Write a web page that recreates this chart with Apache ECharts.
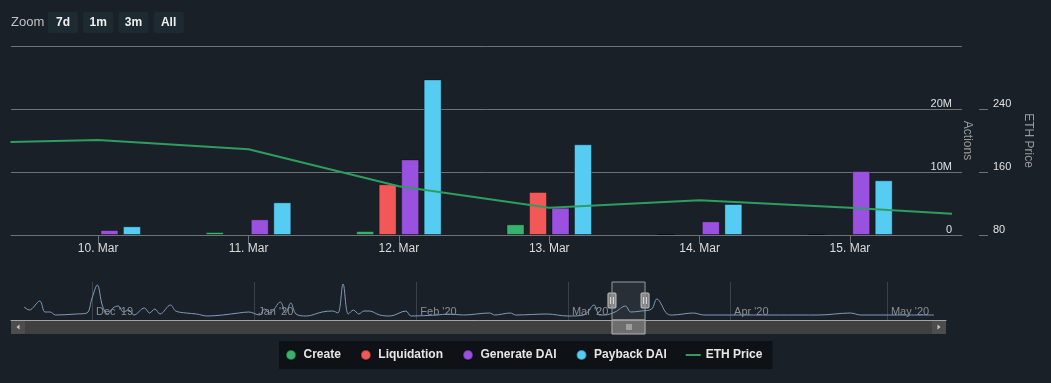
<!DOCTYPE html>
<html>
<head>
<meta charset="utf-8">
<script src="https://cdn.jsdelivr.net/npm/echarts/dist/echarts.min.js"></script>
<style>
html,body{margin:0;padding:0;background:#192028;}
#main{width:1051px;height:383px;}
</style>
</head>
<body>
<div id="main"></div>
<script>
// ---------- data ----------
const days = ['2020-03-10', '2020-03-11', '2020-03-12', '2020-03-13', '2020-03-14', '2020-03-15'];
const createVals = [null, 0.48e6, 0.63e6, 1.7e6, 0.15e6, 0.15e6];
const liquidationVals = [null, null, 8.05e6, 6.83e6, null, null];
const generateVals = [0.79e6, 2.49e6, 12.0e6, 4.33e6, 2.17e6, 10.16e6];
const paybackVals = [1.38e6, 5.19e6, 24.7e6, 14.4e6, 4.92e6, 8.68e6];

const ethTimes = ['2020-03-09 10:00', '2020-03-10 00:00', '2020-03-11 00:00', '2020-03-12 00:00',
  '2020-03-13 00:00', '2020-03-14 00:00', '2020-03-15 00:00', '2020-03-15 16:17'];
const ethPrices = [198, 200.5, 189, 142, 114.5, 124, 114.5, 107];

const viewStart = '2020-03-09 10:05';
const viewEnd = '2020-03-15 17:53';

const navDates = ['2019-11-18', '2019-11-19', '2019-11-21', '2019-11-22', '2019-11-23', '2019-11-24', '2019-11-28',
  '2019-11-30', '2019-12-01', '2019-12-02', '2019-12-03', '2019-12-04', '2019-12-05', '2019-12-06', '2019-12-07',
  '2019-12-08', '2019-12-09', '2019-12-11', '2019-12-12', '2019-12-13', '2019-12-14', '2019-12-16', '2019-12-17',
  '2019-12-19', '2019-12-21', '2019-12-23', '2019-12-26', '2019-12-29', '2019-12-31', '2020-01-02', '2020-01-03',
  '2020-01-04', '2020-01-06', '2020-01-07', '2020-01-08', '2020-01-09', '2020-01-11', '2020-01-14', '2020-01-16',
  '2020-01-17', '2020-01-18', '2020-01-19', '2020-01-20', '2020-01-21', '2020-01-22', '2020-01-23', '2020-01-25',
  '2020-01-27', '2020-01-30', '2020-01-31', '2020-02-05', '2020-02-07', '2020-02-10', '2020-02-15', '2020-02-16',
  '2020-02-19', '2020-02-20', '2020-02-26', '2020-03-01', '2020-03-04', '2020-03-06', '2020-03-07', '2020-03-08',
  '2020-03-10', '2020-03-12', '2020-03-13', '2020-03-15', '2020-03-17', '2020-03-18', '2020-03-20', '2020-03-21',
  '2020-03-25', '2020-03-27', '2020-04-01', '2020-04-07', '2020-04-14', '2020-04-18', '2020-04-24', '2020-04-26',
  '2020-05-03', '2020-05-10'];
const navValues = [13, 10, 19, 8, 8, 5, 6,
  7, 22, 35, 14, 6, 12, 14, 8,
  10, 5, 12, 7, 11, 6, 15, 9,
  7, 6, 4, 5, 7, 8, 5, 11,
  7, 18, 7, 17, 6, 4, 8, 9,
  7, 36, 6, 10, 6, 9, 9, 5,
  4, 9, 4, 5, 6, 5, 7, 5,
  7, 5, 6, 4, 5, 15, 5, 5,
  8, 14, 8, 9, 11, 21, 6, 5,
  7, 5, 5, 5, 5, 5, 7, 5,
  5, 5];
const navMin = '2019-11-15 12:00';
const navMax = '2020-05-12 07:00';

const seriesNames = ['Create', 'Liquidation', 'Generate DAI', 'Payback DAI', 'ETH Price'];
const colors = ['#37b26c', '#f25858', '#9b51e0', '#56ccf2', '#2e9e5f'];
const monthNames = ['Jan', 'Feb', 'Mar', 'Apr', 'May', 'Jun', 'Jul', 'Aug', 'Sep', 'Oct', 'Nov', 'Dec'];
const zoomButtons = ['7d', '1m', '3m', 'All'];

// ---------- chart ----------
const FONT = 'Liberation Sans, Arial, sans-serif';
const GRID_LEFT = 11, GRID_RIGHT = 89, CHART_W = 1051;
const chart = echarts.init(document.getElementById('main'));

function toTime(s) { return echarts.number.parseDate(s).getTime(); }
function pair(xs, ys) { return xs.map((x, i) => [x, ys[i]]); }

const barCommon = {
  type: 'bar', xAxisIndex: 0, yAxisIndex: 0, barWidth: 18, barGap: '25%',
  itemStyle: { borderColor: 'rgba(0,0,0,0.35)', borderWidth: 1 }
};

const staticGraphics = [];
staticGraphics.push({
  type: 'text', id: 'zoomLbl', left: 11, top: 16,
  style: { text: 'Zoom', fill: '#c2c2c2', font: '13px ' + FONT }
});
zoomButtons.forEach((b, i) => {
  const x = 48 + i * 35.2;
  staticGraphics.push({
    type: 'rect', id: 'zb' + i, shape: { x: x, y: 12, width: 30, height: 21, r: 2 },
    style: { fill: '#1d2a31' }
  });
  staticGraphics.push({
    type: 'text', id: 'zt' + i, x: x + 15, y: 22.5,
    style: { text: b, fill: '#f0f0f0', font: 'bold 12px ' + FONT, align: 'center', verticalAlign: 'middle' }
  });
});
staticGraphics.push({ type: 'rect', id: 'track', shape: { x: 11, y: 320, width: 935, height: 14 }, style: { fill: '#404040' } });
staticGraphics.push({ type: 'rect', id: 'lbtn', shape: { x: 11, y: 320, width: 14, height: 14 }, style: { fill: '#4d4d4d' } });
staticGraphics.push({ type: 'rect', id: 'rbtn', shape: { x: 932, y: 320, width: 14, height: 14 }, style: { fill: '#4d4d4d' } });
staticGraphics.push({ type: 'polygon', id: 'larr', shape: { points: [[19.5, 324.5], [19.5, 329.5], [16.5, 327]] }, style: { fill: '#c8c8c8' } });
staticGraphics.push({ type: 'polygon', id: 'rarr', shape: { points: [[937.5, 324.5], [937.5, 329.5], [940.5, 327]] }, style: { fill: '#c8c8c8' } });

const option = {
  backgroundColor: '#192028',
  animation: false,
  textStyle: { fontFamily: FONT },
  color: colors,
  grid: [
    { left: GRID_LEFT, right: GRID_RIGHT, top: 46, bottom: 148 },
    { left: 11, right: 105, top: 282, bottom: 63 }
  ],
  legend: {
    left: 279, top: 341,
    padding: [8, 10, 8, 6],
    backgroundColor: '#0e1217',
    itemWidth: 15, itemHeight: 10, itemGap: 19,
    textStyle: { color: '#e6e6e6', fontWeight: 'bold', fontSize: 12, fontFamily: FONT },
    data: [
      { name: seriesNames[0], icon: 'circle' },
      { name: seriesNames[1], icon: 'circle' },
      { name: seriesNames[2], icon: 'circle' },
      { name: seriesNames[3], icon: 'circle' },
      { name: seriesNames[4], icon: 'path://M0,0H15V2H0Z' }
    ]
  },
  xAxis: [
    {
      type: 'time', gridIndex: 0, min: toTime(viewStart), max: toTime(viewEnd),
      splitNumber: 6, minInterval: 86400000, maxInterval: 86400000,
      axisLine: { show: true, lineStyle: { color: '#6f7275', width: 1 } },
      axisTick: { show: true, length: 9, lineStyle: { color: '#6f7275' } },
      splitLine: { show: false },
      axisLabel: {
        color: '#dcdcdc', fontSize: 12, margin: 8, fontFamily: FONT,
        showMinLabel: false, showMaxLabel: false,
        formatter: function (v) {
          const d = new Date(v);
          if (d.getHours() !== 0 || d.getMinutes() !== 0) return '';
          return d.getDate() + '. ' + monthNames[d.getMonth()];
        }
      }
    },
    {
      type: 'time', gridIndex: 1, position: 'top', min: navMin, max: navMax,
      splitNumber: 6, minInterval: 28 * 86400000, maxInterval: 31 * 86400000,
      axisLine: { show: true, lineStyle: { color: '#a3a3a3', width: 1 } },
      axisTick: { show: false },
      splitLine: { show: true, showMinLine: false, showMaxLine: false, lineStyle: { color: '#3a4148', width: 1 } },
      axisLabel: {
        inside: true, margin: 30, color: '#8d8d8d', fontSize: 11, fontFamily: FONT,
        align: 'left', verticalAlign: 'middle', padding: [0, 0, 0, 4],
        showMinLabel: false, showMaxLabel: false,
        formatter: function (v) {
          const d = new Date(v);
          if (d.getDate() !== 1 || d.getHours() !== 0) return '';
          return monthNames[d.getMonth()] + " '" + String(d.getFullYear()).slice(2);
        }
      }
    }
  ],
  yAxis: [
    {
      type: 'value', gridIndex: 0, position: 'right', min: 0, max: 30e6, interval: 10e6,
      name: 'Actions', nameLocation: 'middle', nameRotate: -90, nameGap: -1, nameMoveOverlap: false,
      nameTextStyle: { color: '#9a9a9a', fontSize: 12, fontFamily: FONT },
      axisLine: { show: false }, axisTick: { show: false },
      splitLine: { show: true, lineStyle: { color: '#6f7275', width: 1 } },
      axisLabel: {
        inside: true, margin: 10, color: '#e0e0e0', fontSize: 11, verticalAlign: 'bottom',
        showMaxLabel: false,
        formatter: function (v) { return v === 0 ? '0' : (v / 1e6) + 'M'; }
      }
    },
    {
      type: 'value', gridIndex: 0, position: 'right', offset: 17, min: 80, max: 320, interval: 80,
      name: 'ETH Price', nameLocation: 'middle', nameRotate: -90, nameGap: 41,
      nameTextStyle: { color: '#9a9a9a', fontSize: 12, fontFamily: FONT },
      axisLine: { show: false },
      axisTick: { show: true, length: 9, lineStyle: { color: '#6f7275' } },
      splitLine: { show: false },
      axisLabel: { margin: 14, color: '#e0e0e0', fontSize: 11, verticalAlign: 'bottom', showMaxLabel: false }
    },
    { type: 'value', gridIndex: 1, min: 0, max: 38, show: false }
  ],
  series: [
    Object.assign({}, barCommon, { name: seriesNames[0], data: pair(days, createVals), itemStyle: Object.assign({}, barCommon.itemStyle, { color: colors[0] }) }),
    Object.assign({}, barCommon, { name: seriesNames[1], data: pair(days, liquidationVals), itemStyle: Object.assign({}, barCommon.itemStyle, { color: colors[1] }) }),
    Object.assign({}, barCommon, { name: seriesNames[2], data: pair(days, generateVals), itemStyle: Object.assign({}, barCommon.itemStyle, { color: colors[2] }) }),
    Object.assign({}, barCommon, { name: seriesNames[3], data: pair(days, paybackVals), itemStyle: Object.assign({}, barCommon.itemStyle, { color: colors[3] }) }),
    {
      name: seriesNames[4], type: 'line', xAxisIndex: 0, yAxisIndex: 1,
      data: pair(ethTimes, ethPrices), symbol: 'none', clip: true,
      lineStyle: { color: colors[4], width: 2 }, itemStyle: { color: colors[4] }
    },
    {
      name: 'Navigator', type: 'line', xAxisIndex: 1, yAxisIndex: 2,
      data: pair(navDates, navValues), symbol: 'none', smooth: 0.35, silent: true,
      lineStyle: { color: '#7f9bbb', width: 1 },
      markArea: {
        silent: true,
        itemStyle: { color: 'rgba(255,255,255,0.07)', borderColor: '#9c9c9c', borderWidth: 1 },
        data: [[{ xAxis: viewStart }, { xAxis: viewEnd }]]
      }
    }
  ],
  graphic: staticGraphics
};

chart.setOption(option);

// ECharts widens a time axis that carries bars; undo that so the axis spans exactly viewStart..viewEnd
(function fixExtent() {
  const A = toTime(viewStart), B = toTime(viewEnd);
  const a0 = chart.convertFromPixel({ xAxisIndex: 0 }, GRID_LEFT);
  const a1 = chart.convertFromPixel({ xAxisIndex: 0 }, CHART_W - GRID_RIGHT);
  const span = B - A;
  const p = (A - a0) / span, q = (a1 - B) / span;
  if (Math.abs(p) < 1e-6 && Math.abs(q) < 1e-6) return;
  const r = span / (1 + p + q);
  const n0 = A + p * r;
  chart.setOption({ xAxis: [{ min: n0, max: n0 + r }, {}] });
})();

// navigator thumb + handles from the navigator's own scale
const px0 = chart.convertToPixel({ xAxisIndex: 1 }, toTime(viewStart));
const px1 = chart.convertToPixel({ xAxisIndex: 1 }, toTime(viewEnd));
const dyn = [];
dyn.push({ type: 'rect', id: 'thumb', shape: { x: px0, y: 320, width: px1 - px0, height: 14 }, style: { fill: '#6e6e6e', stroke: '#b5b5b5', lineWidth: 1 } });
const cx = (px0 + px1) / 2;
[-2, 0, 2].forEach((o, i) => {
  dyn.push({ type: 'line', id: 'grip' + i, shape: { x1: cx + o + 0.5, y1: 324, x2: cx + o + 0.5, y2: 330 }, style: { stroke: '#cfcfcf', lineWidth: 1 } });
});
[px0, px1].forEach((p, i) => {
  dyn.push({ type: 'rect', id: 'hd' + i, shape: { x: p - 4, y: 293, width: 8, height: 15, r: 1 }, style: { fill: '#7c7c7c', stroke: '#c4c4c4', lineWidth: 1 } });
  dyn.push({ type: 'line', id: 'hl' + i + 'a', shape: { x1: p - 1.5, y1: 297, x2: p - 1.5, y2: 304 }, style: { stroke: '#d8d8d8', lineWidth: 1 } });
  dyn.push({ type: 'line', id: 'hl' + i + 'b', shape: { x1: p + 1.5, y1: 297, x2: p + 1.5, y2: 304 }, style: { stroke: '#d8d8d8', lineWidth: 1 } });
});
chart.setOption({ graphic: staticGraphics.concat(dyn) });
</script>
</body>
</html>
